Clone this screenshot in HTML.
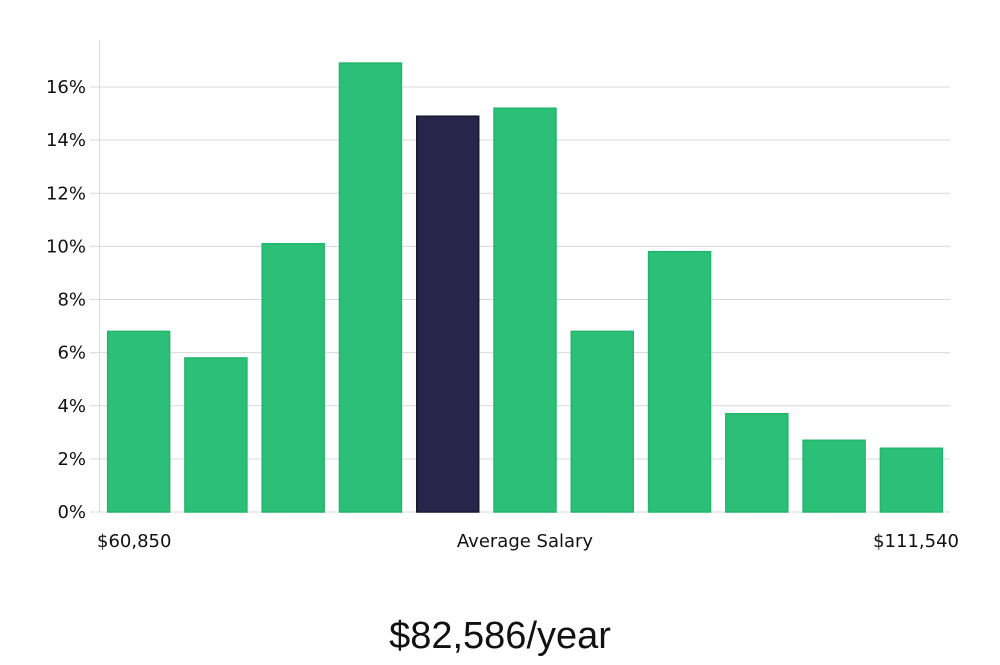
<!DOCTYPE html>
<html><head><meta charset="utf-8"><style>
body{margin:0;background:#fff;}
svg text{font-family:"DejaVu Sans","Liberation Sans",sans-serif;}
</style></head><body>
<svg width="1000" height="660" xmlns="http://www.w3.org/2000/svg">
<g id="grid"></g>
<g id="bars"></g>
<g id="yaxis"></g>
<text x="97" y="547" font-size="18" fill="#111">$60,850</text>
<text x="525" y="547" font-size="18" fill="#111" text-anchor="middle">Average Salary</text>
<text x="959" y="547" font-size="18" fill="#111" text-anchor="end">$111,540</text>
<text x="500" y="648" font-size="38" fill="#111" text-anchor="middle" style="font-family:'Liberation Sans Narrow','Liberation Sans',sans-serif;font-weight:300">$82,586/year</text>
</svg>
<script>
const categories=["b1","b2","b3","b4","b5","b6","b7","b8","b9","b10","b11"];
const values=[6.8,5.8,10.1,16.9,14.9,15.2,6.8,9.8,3.7,2.7,2.4];
const highlightIndex=4;
const yTicks=[0,2,4,6,8,10,12,14,16];
const tickLabels=["0%","2%","4%","6%","8%","10%","12%","14%","16%"];
const NS="http://www.w3.org/2000/svg";
const x0=100,x1=950,yBase=512,pxPer=(512-87)/16;
const y=v=>yBase-v*pxPer;
const step=(x1-x0)/categories.length;
const bw=step*0.815;
function mk(t,a,p){const e=document.createElementNS(NS,t);for(const k in a)e.setAttribute(k,a[k]);p.appendChild(e);return e;}
const grid=document.getElementById('grid'),bars=document.getElementById('bars'),ya=document.getElementById('yaxis');
yTicks.forEach((t,i)=>{
 const g=mk('line',{x1:90,x2:x1,y1:y(t),y2:y(t),stroke:'#d9d9d9','stroke-width':1},grid);
 
 
 const tx=mk('text',{x:86,y:y(t)+6,'font-size':18,fill:'#111','text-anchor':'end'},ya);
 tx.textContent=tickLabels[i];
 
 
});
const ax=mk('line',{x1:99.5,x2:99.5,y1:40,y2:yBase,stroke:'#d9d9d9','stroke-width':1},ya);


values.forEach((v,i)=>{
 const hl=i===highlightIndex;
 const r=mk('rect',{x:x0+i*step+(step-bw)/2+0.5,y:y(v),width:bw-1,height:yBase-y(v),fill:hl?'#29244a':'#2bbf77',stroke:hl?'#1a1733':'#22b56c','stroke-width':1.5},bars);
 
 
});
</script>
</body></html>
